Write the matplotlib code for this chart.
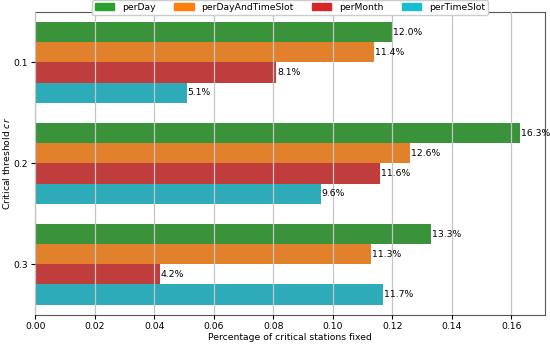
import matplotlib.pyplot as plt
import matplotlib.patches as mpatches
import numpy as np
import colorsys
from matplotlib.colors import to_rgb

thresholds = ['0.1', '0.2', '0.3']
methods = ['perDay', 'perDayAndTimeSlot', 'perMonth', 'perTimeSlot']
per_day = [0.120, 0.163, 0.133]
per_day_and_time_slot = [0.114, 0.126, 0.113]
per_month = [0.081, 0.116, 0.042]
per_time_slot = [0.051, 0.096, 0.117]
series = [per_day, per_day_and_time_slot, per_month, per_time_slot]

base_colors = ['#2ca02c', '#ff7f0e', '#d62728', '#17becf']


def desaturate(c, prop=0.75):
    h, l, s = colorsys.rgb_to_hls(*to_rgb(c))
    return colorsys.hls_to_rgb(h, l, s * prop)


fs = 6.7
plt.rcParams['font.size'] = fs
plt.rcParams['xtick.major.pad'] = 2
plt.rcParams['ytick.major.pad'] = 2
plt.rcParams['xtick.major.size'] = 3
plt.rcParams['ytick.major.size'] = 3
fig, ax = plt.subplots(figsize=(5.5, 3.44), dpi=100)

n = len(methods)
bar_h = 0.8 / n
y = np.arange(len(thresholds))
for i, (vals, c) in enumerate(zip(series, base_colors)):
    pos = y - 0.4 + bar_h * (i + 0.5)
    bars = ax.barh(pos, vals, height=bar_h, color=desaturate(c), zorder=1)
    ax.bar_label(bars, labels=['%.1f%%' % (v * 100) for v in vals],
                 padding=0.5, fontsize=fs)

ax.set_yticks(y)
ax.set_yticklabels(thresholds)
ax.set_ylim(len(thresholds) - 0.5, -0.5)
ax.grid(axis='x', color='#c4c4c4', linewidth=0.9, zorder=2)
ax.set_axisbelow(False)
for s in ax.spines.values():
    s.set_color('#555555')

ax.set_xlabel('Percentage of critical stations fixed', labelpad=2)
ax.set_ylabel('Critical threshold $cr$', labelpad=1.5)

handles = [mpatches.Patch(color=c, label=m) for c, m in zip(base_colors, methods)]
ax.legend(handles=handles, loc='upper center', bbox_to_anchor=(0.5, 1.04),
          ncol=4, fontsize=fs, framealpha=1, borderaxespad=0,
          handlelength=2.1, columnspacing=2.0, borderpad=0.3)

fig.subplots_adjust(left=0.064, right=0.99, top=0.965, bottom=0.085)
fig.savefig('out.png', dpi=100)
